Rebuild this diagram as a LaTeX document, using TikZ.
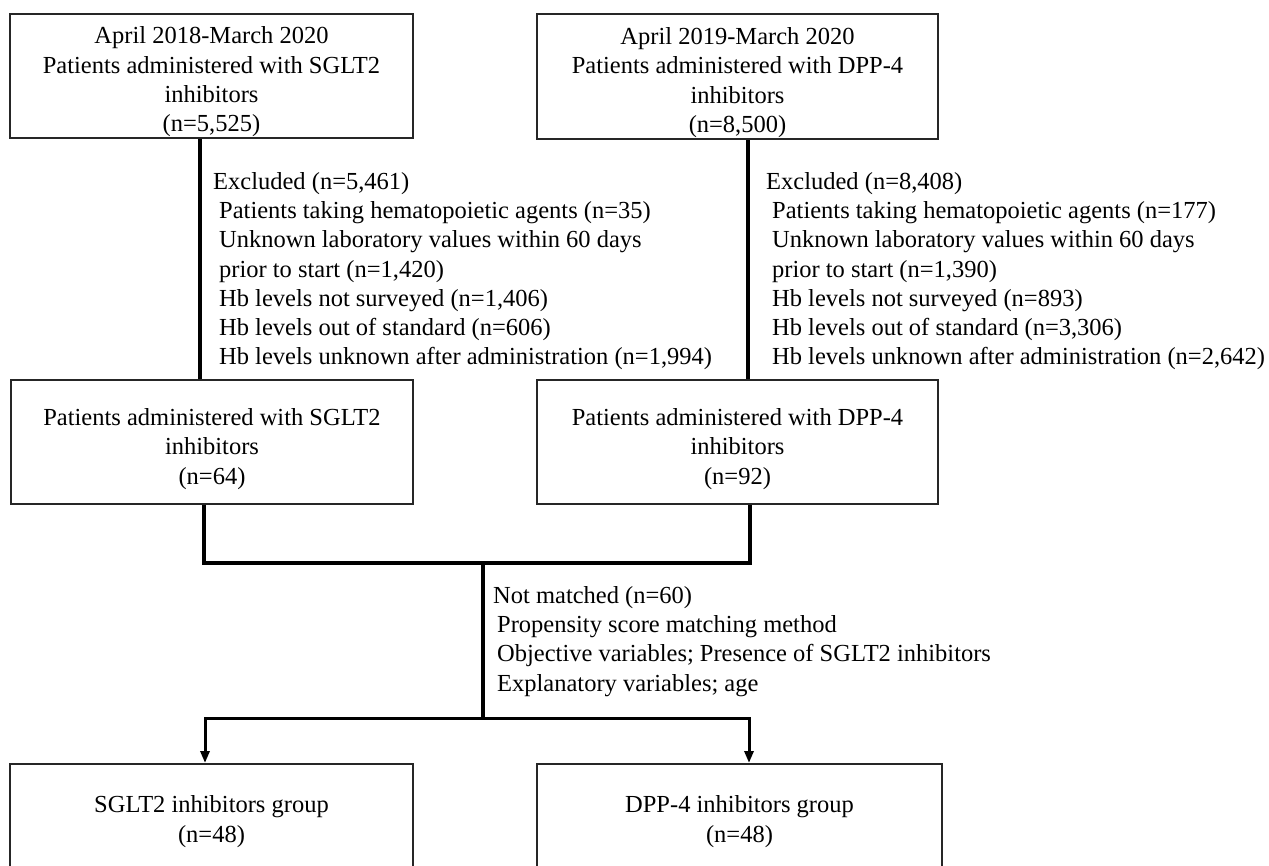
\documentclass[tikz,border=0pt]{standalone}
\usepackage{fontspec}
\setmainfont{Liberation Serif}
\usetikzlibrary{arrows.meta}
\newcommand{\liftstrut}[1]{\rule{0pt}{#1}}
\begin{document}
\begin{tikzpicture}[x=1pt,y=-1pt,
  box/.style={draw=black!85,line width=2pt,rectangle,inner sep=0pt,align=center,
    font=\fontsize{24.5}{29.3}\selectfont},
  note/.style={inner sep=0pt,align=left,anchor=north west,
    font=\fontsize{24.5}{29.3}\selectfont},
  conn/.style={draw=black,line width=3.5pt},
  arr/.style={draw=black,line width=3pt,-{Triangle[length=12pt,width=9pt]}}]
\useasboundingbox[fill=white] (0,0) rectangle (1269,866);

\node[box,minimum width=403pt,minimum height=124pt] (tl) at (211.5,76)
  {\liftstrut{29pt}April 2018-March 2020\\Patients administered with SGLT2\\inhibitors\\(n=5,525)};
\node[box,minimum width=401pt,minimum height=125pt] (tr) at (737.5,76.5)
  {\liftstrut{29pt}April 2019-March 2020\\Patients administered with DPP-4\\inhibitors\\(n=8,500)};

\node[box,minimum width=402pt,minimum height=124pt] (ml) at (212,442)
  {\liftstrut{31pt}Patients administered with SGLT2\\inhibitors\\(n=64)};
\node[box,minimum width=401pt,minimum height=124pt] (mr) at (737.5,442)
  {\liftstrut{31pt}Patients administered with DPP-4\\inhibitors\\(n=92)};

\node[box,minimum width=403pt,minimum height=140pt,anchor=north] (bl) at (211.5,763)
  {\liftstrut{16pt}\\SGLT2 inhibitors group\\(n=48)\\\\};
\node[box,minimum width=405pt,minimum height=140pt,anchor=north] (br) at (739.5,763)
  {\liftstrut{16pt}\\DPP-4 inhibitors group\\(n=48)\\\\};

\node[note] (exl) at (213,172)
  {Excluded (n=5,461)\\
   \hspace*{6pt}Patients taking hematopoietic agents (n=35)\\
   \hspace*{6pt}Unknown laboratory values within 60 days\\
   \hspace*{6pt}prior to start (n=1,420)\\
   \hspace*{6pt}Hb levels not surveyed (n=1,406)\\
   \hspace*{6pt}Hb levels out of standard (n=606)\\
   \hspace*{6pt}Hb levels unknown after administration (n=1,994)};
\node[note] (exr) at (766,172)
  {Excluded (n=8,408)\\
   \hspace*{6pt}Patients taking hematopoietic agents (n=177)\\
   \hspace*{6pt}Unknown laboratory values within 60 days\\
   \hspace*{6pt}prior to start (n=1,390)\\
   \hspace*{6pt}Hb levels not surveyed (n=893)\\
   \hspace*{6pt}Hb levels out of standard (n=3,306)\\
   \hspace*{6pt}Hb levels unknown after administration (n=2,642)};
\node[note] (nm) at (493,586)
  {Not matched (n=60)\\
   \hspace*{4pt}Propensity score matching method\\
   \hspace*{4pt}Objective variables; Presence of SGLT2 inhibitors\\
   \hspace*{4pt}Explanatory variables; age};

\coordinate (j1) at (483,563);
\coordinate (j2) at (483,718);

\draw[conn] ([xshift=-11.5pt]tl.south) -- ([xshift=-11.5pt]tl.south |- ml.north);
\draw[conn] ([xshift=10.5pt]tr.south) -- ([xshift=10.5pt]tr.south |- mr.north);
\draw[conn] ([xshift=-8pt]ml.south) |- (j1) -| ([xshift=12.5pt]mr.south);
\draw[conn] (j1) -- (j2);
\draw[arr] (j2) -| ([xshift=-6.5pt]bl.north);
\draw[arr] (j2) -| ([xshift=9.5pt]br.north);
\end{tikzpicture}
\end{document}
